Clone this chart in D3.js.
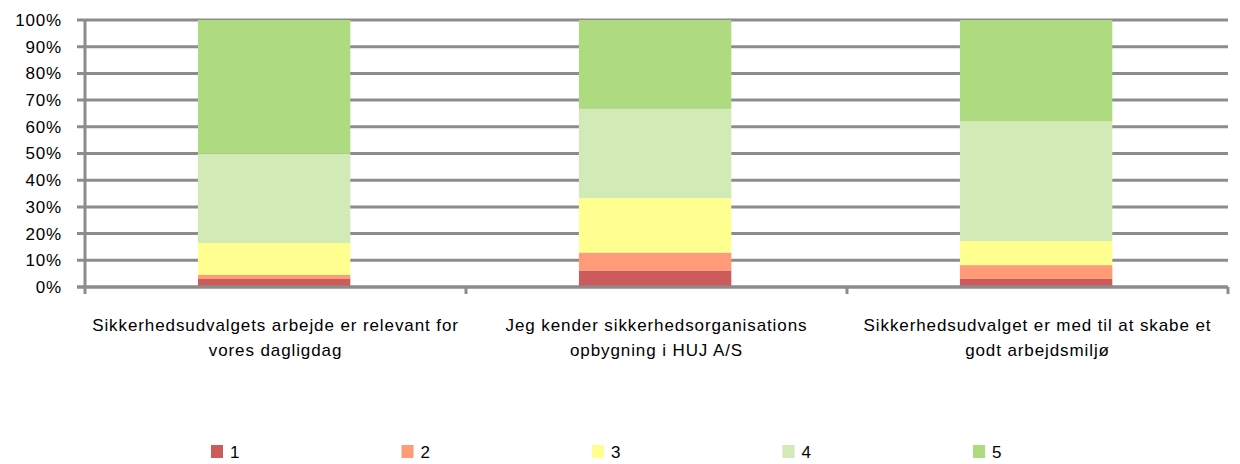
<!DOCTYPE html>
<html>
<head>
<meta charset="utf-8">
<script src="https://cdn.jsdelivr.net/npm/d3@7"></script>
<style>
  body { margin: 0; background: #fff; }
  text { font-family: "Liberation Sans", "DejaVu Sans", sans-serif; fill: #000; }
</style>
</head>
<body>
<div id="chart"></div>
<script>
var width = 1240, height = 464;

// data (percent of answers per score)
var categories = [
  ["Sikkerhedsudvalgets arbejde er relevant for", "vores dagligdag"],
  ["Jeg kender sikkerhedsorganisations", "opbygning i HUJ A/S"],
  ["Sikkerhedsudvalget er med til at skabe et", "godt arbejdsmiljø"]
];
var keys = ["1", "2", "3", "4", "5"];
var score1 = [3.0, 6.2, 3.0];
var score2 = [1.5, 6.7, 5.2];
var score3 = [12.0, 20.4, 9.0];
var score4 = [33.5, 33.4, 44.8];
var score5 = [50.0, 33.3, 38.0];
var yTicks = [0, 10, 20, 30, 40, 50, 60, 70, 80, 90, 100];
var colors = ["#cc5b5b", "#ff9b77", "#ffff8f", "#d2eab5", "#aeda80"];

var rows = categories.map(function(c, i) {
  return { cat: i, "1": score1[i], "2": score2[i], "3": score3[i], "4": score4[i], "5": score5[i] };
});

var mLeft = 85, mRight = 1228, mTop = 20, mBottom = 287;

var svg = d3.select("#chart").append("svg")
            .attr("width", width)
            .attr("height", height);

var x = d3.scaleBand().domain(d3.range(categories.length)).range([mLeft, mRight])
          .paddingInner(0.6).paddingOuter(0.3).align(0.494);
var xOuter = d3.scaleBand().domain(d3.range(categories.length)).range([mLeft, mRight]);
var y = d3.scaleLinear().domain([0, 100]).range([mBottom, mTop]);

// gridlines + y ticks
svg.append("g")
   .selectAll("line")
   .data(yTicks)
   .enter().append("line")
   .attr("x1", mLeft - 8).attr("x2", mRight)
   .attr("y1", function(d) { return y(d); })
   .attr("y2", function(d) { return y(d); })
   .attr("stroke", "#8c8c8c")
   .attr("stroke-width", 3);

svg.append("g")
   .selectAll("text")
   .data(yTicks)
   .enter().append("text")
   .attr("x", mLeft - 23)
   .attr("y", function(d) { return y(d); })
   .attr("dy", "0.35em")
   .attr("text-anchor", "end")
   .attr("font-size", 17)
   .attr("letter-spacing", 0.8)
   .text(function(d) { return d + "%"; });

// stacked bars
var series = d3.stack().keys(keys)(rows);

svg.append("g")
   .selectAll("g")
   .data(series)
   .enter().append("g")
   .attr("fill", function(d, i) { return colors[i]; })
   .selectAll("rect")
   .data(function(d) { return d; })
   .enter().append("rect")
   .attr("x", function(d) { return x(d.data.cat); })
   .attr("width", x.bandwidth())
   .attr("y", function(d) { return y(d[1]); })
   .attr("height", function(d) { return y(d[0]) - y(d[1]); });

// axes lines
svg.append("line")
   .attr("x1", mLeft).attr("x2", mLeft)
   .attr("y1", mTop - 1).attr("y2", mBottom + 7)
   .attr("stroke", "#8c8c8c").attr("stroke-width", 3);

svg.append("line")
   .attr("x1", mLeft - 8).attr("x2", mRight)
   .attr("y1", mBottom).attr("y2", mBottom)
   .attr("stroke", "#8c8c8c").attr("stroke-width", 3);

var bounds = d3.range(1, categories.length).map(function(i) { return xOuter(i); }).concat([mRight]);
svg.append("g")
   .selectAll("line")
   .data(bounds)
   .enter().append("line")
   .attr("x1", function(d) { return d; }).attr("x2", function(d) { return d; })
   .attr("y1", mBottom).attr("y2", mBottom + 7)
   .attr("stroke", "#8c8c8c").attr("stroke-width", 3);

// category labels
var lab = svg.append("g")
   .selectAll("text")
   .data(categories)
   .enter().append("text")
   .attr("text-anchor", "middle")
   .attr("font-size", 17)
   .attr("letter-spacing", 0.9)
   .attr("y", 331);

lab.selectAll("tspan")
   .data(function(d, i) { return d.map(function(s) { return { s: s, i: i }; }); })
   .enter().append("tspan")
   .attr("x", function(d) { return xOuter(d.i) + xOuter.bandwidth() / 2; })
   .attr("dy", function(d, j) { return j === 0 ? 0 : 25; })
   .text(function(d) { return d.s; });

// legend
var legend = svg.append("g")
   .selectAll("g")
   .data(keys)
   .enter().append("g")
   .attr("transform", function(d, i) { return "translate(" + (211 + i * 190.5) + ",445)"; });

legend.append("rect")
   .attr("width", 12).attr("height", 13)
   .attr("fill", function(d, i) { return colors[i]; });

legend.append("text")
   .attr("x", 19).attr("y", 7).attr("dy", "0.35em")
   .attr("font-size", 17)
   .text(function(d) { return d; });
</script>
</body>
</html>
